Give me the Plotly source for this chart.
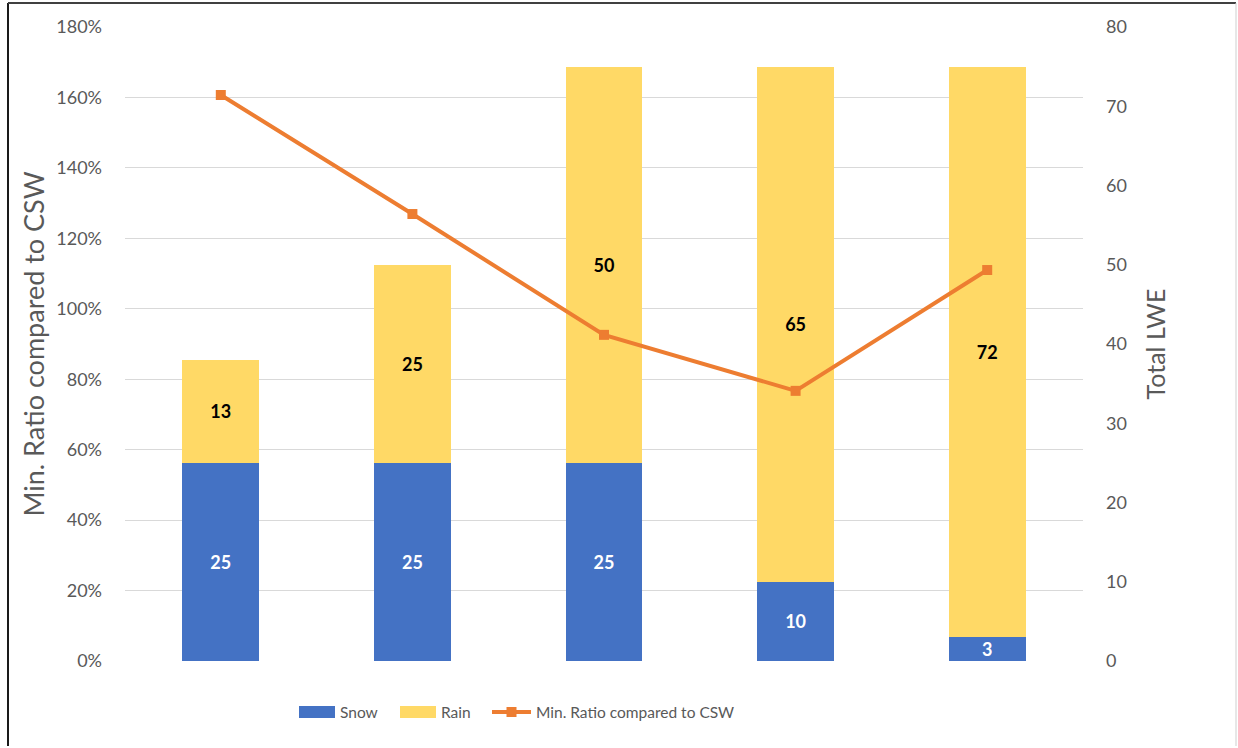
import plotly.graph_objects as go

# Scenario slots along the x axis (no tick labels are shown)
scenarios = ["1", "2", "3", "4", "5"]

# Liquid water equivalent split into snow and rain (right axis)
snow_lwe = [25, 25, 25, 10, 3]
rain_lwe = [13, 25, 50, 65, 72]

# Minimum ratio compared to CSW (left axis, fraction)
min_ratio = [1.607, 1.269, 0.926, 0.767, 1.11]

ratio_ticks = [0, 0.2, 0.4, 0.6, 0.8, 1.0, 1.2, 1.4, 1.6, 1.8]
lwe_ticks = [0, 10, 20, 30, 40, 50, 60, 70, 80]

FONT = "Lato"
GREY_TXT = "#595959"
BLUE = "#4472C4"
GOLD = "#FFD966"
ORANGE = "#ED7D31"

fig = go.Figure()

fig.add_trace(go.Bar(
    x=scenarios, y=snow_lwe, name="Snow", yaxis="y",
    marker=dict(color=BLUE, line=dict(width=0)),
    text=snow_lwe, texttemplate="<b>%{text}</b>",
    textposition="inside", insidetextanchor="middle", textangle=0,
    textfont=dict(family=FONT, size=18, color="white"),
    hoverinfo="skip", showlegend=False,
))
fig.add_trace(go.Bar(
    x=scenarios, y=rain_lwe, name="Rain", yaxis="y",
    marker=dict(color=GOLD, line=dict(width=0)),
    text=rain_lwe, texttemplate="<b>%{text}</b>",
    textposition="inside", insidetextanchor="middle", textangle=0,
    textfont=dict(family=FONT, size=18, color="black"),
    hoverinfo="skip", showlegend=False,
))
fig.add_trace(go.Scatter(
    x=scenarios, y=min_ratio, name="Min. Ratio compared to CSW", yaxis="y2",
    mode="lines+markers",
    line=dict(color=ORANGE, width=4),
    marker=dict(symbol="square", size=10, color=ORANGE),
    hoverinfo="skip", showlegend=False,
))

W, H = 1238, 748
L, R, T, B = 125, 155, 27, 87
pw, ph = W - L - R, H - T - B


def px_x(x):
    return (x - L) / pw


def px_y(y):
    return (H - B - y) / ph


fig.update_layout(
    width=W, height=H,
    margin=dict(l=L, r=R, t=T, b=B, pad=0),
    paper_bgcolor="white", plot_bgcolor="white",
    font=dict(family=FONT, size=18, color=GREY_TXT),
    barmode="stack", bargap=0.6,
    uniformtext=dict(minsize=18, mode="show"),
    showlegend=False,
    xaxis=dict(showticklabels=False, showgrid=False, zeroline=False,
               showline=False, ticks="", automargin=False),
    yaxis=dict(side="right", range=[0, 80], tickvals=lwe_ticks,
               showgrid=False, zeroline=False, showline=False,
               ticks="", ticklabelstandoff=22, automargin=False,
               title=dict(text="Total LWE", font=dict(size=25, color=GREY_TXT),
                          standoff=21)),
    yaxis2=dict(side="left", overlaying="y", range=[0, 1.8],
                tickvals=ratio_ticks, tickformat=".0%",
                showgrid=True, gridcolor="#D9D9D9", gridwidth=1.3,
                zeroline=False, showline=False, ticks="",
                ticklabelstandoff=22, automargin=False,
                title=dict(text="Min. Ratio compared to CSW",
                           font=dict(size=27, color=GREY_TXT), standoff=3)),
)

# Legend drawn as swatches and labels below the plot
leg_y = 712
swatches = [
    ("rect", 299, 335, BLUE, "Snow", 338),
    ("rect", 400, 436, GOLD, "Rain", 439),
    ("line", 492, 531, ORANGE, "Min. Ratio compared to CSW", 534),
]
for kind, xa, xb, col, label, tx in swatches:
    if kind == "rect":
        fig.add_shape(type="rect", xref="paper", yref="paper",
                      x0=px_x(xa), x1=px_x(xb),
                      y0=px_y(leg_y + 6), y1=px_y(leg_y - 6),
                      fillcolor=col, line=dict(width=0))
    else:
        fig.add_shape(type="line", xref="paper", yref="paper",
                      x0=px_x(xa), x1=px_x(xb), y0=px_y(leg_y), y1=px_y(leg_y),
                      line=dict(color=col, width=4))
        xm = (xa + xb) / 2
        fig.add_shape(type="rect", xref="paper", yref="paper",
                      x0=px_x(xm - 5), x1=px_x(xm + 5),
                      y0=px_y(leg_y + 5), y1=px_y(leg_y - 5),
                      fillcolor=col, line=dict(width=0))
    fig.add_annotation(text=label, xref="paper", yref="paper",
                       x=px_x(tx), y=px_y(leg_y), xanchor="left",
                       yanchor="middle", showarrow=False,
                       font=dict(size=15.5, color=GREY_TXT))

# Frame around the chart area
frame = [
    (8, 3, 8, 746, "#1a1a1a", 2),
    (8, 3, 1236, 3, "#404040", 2),
    (1236, 3, 1236, 746, "#cfcfcf", 1),
]
for x0, y0, x1, y1, col, wd in frame:
    fig.add_shape(type="line", xref="paper", yref="paper",
                  x0=px_x(x0), y0=px_y(y0), x1=px_x(x1), y1=px_y(y1),
                  line=dict(color=col, width=wd), layer="above")

fig.write_html("out.html")
